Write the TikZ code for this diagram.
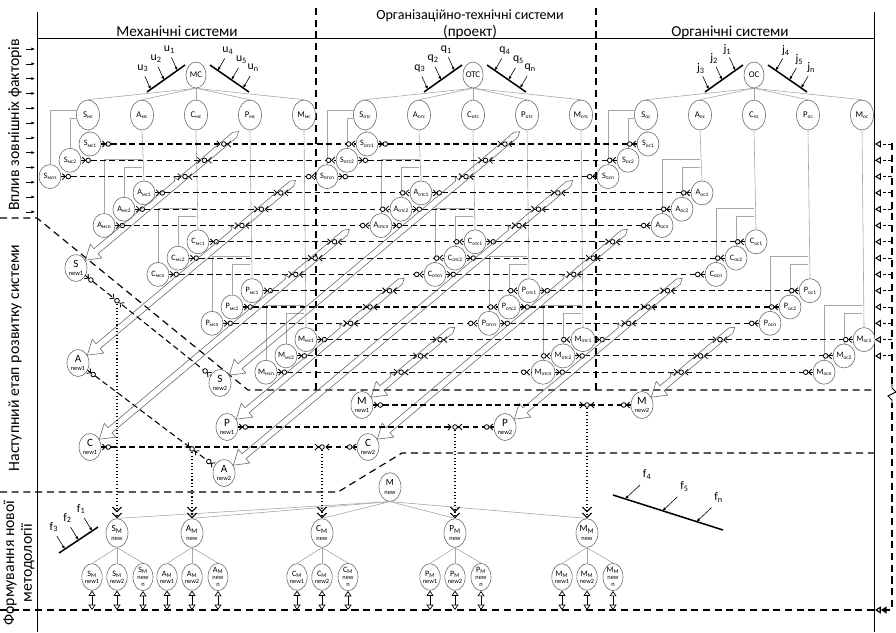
\documentclass[tikz,border=0pt]{standalone}
\usepackage{fontspec}
\setmainfont{Carlito}
\usetikzlibrary{arrows.meta,shapes.geometric,calc}
\definecolor{sysgray}{RGB}{105,105,105}
\definecolor{treegray}{RGB}{165,165,165}
\newcommand{\nwt}[1]{{\fontsize{5.5}{5.5}\selectfont #1}}
\newcommand{\sbx}[1]{\raisebox{-1.2pt}{\fontsize{4.6}{4.6}\selectfont #1}}
\tikzset{
  sysnode/.style={ellipse, draw=sysgray, fill=white, inner sep=0pt, align=center, line width=.5pt},
  topnode/.style={sysnode, minimum width=.6cm, minimum height=.78cm, font=\fontsize{7.5}{8}\selectfont},
  kidnode/.style={sysnode, minimum width=.69cm, minimum height=.9cm, font=\fontsize{7.5}{8}\selectfont},
  subnode/.style={sysnode, minimum width=.66cm, minimum height=.72cm, font=\fontsize{7}{7}\selectfont},
  newnode/.style={sysnode, minimum width=.66cm, minimum height=.81cm, font=\fontsize{9.5}{7}\selectfont},
  mnode/.style={sysnode, minimum width=.66cm, minimum height=.86cm, font=\fontsize{8}{7}\selectfont},
  msub/.style={sysnode, minimum width=.6cm, minimum height=.8cm, font=\fontsize{7}{6}\selectfont},
  tree/.style={draw=treegray, line width=.5pt},
  rowline/.style={draw, line width=.9pt, dash pattern=on 5pt off 3pt},
  sepline/.style={draw, line width=1pt, dash pattern=on 6pt off 4pt},
  frameline/.style={draw, line width=.8pt},
  dotline/.style={draw, line width=.9pt, dotted, -{Straight Barb[length=4pt,width=8pt]Straight Barb[length=4pt,width=8pt]}},
  dblarr/.style={draw, line width=.6pt, {Triangle[open,length=4.5pt,width=6pt]}-{Triangle[open,length=4.5pt,width=6pt]}},
  inarr/.style={draw, line width=.5pt, -{Latex[length=3pt,width=2.5pt]}},
  backarr/.style={draw, line width=.8pt, dash pattern=on 3pt off 2pt, -{Triangle[open,length=5pt,width=6pt]}},
  bar/.style={draw, line width=1.3pt},
  facarr/.style={draw, line width=.5pt, -{Latex[length=3pt,width=2.5pt]}},
  faclab/.style={font=\fontsize{10}{10}\selectfont, inner sep=0pt},
  bandline/.style={draw=sysgray, line width=.5pt},
  pics/band/.style 2 args={code={
    \draw[bandline] (0,0) -- (14,-9) -- (14,-3.2) -- (#2-2,-3.2) -- (#2,-7) -- (#2+1.5,-1.5) -- (#2+3,-3.2)
      -- (#1,-3.2) -- (#1+5,0) -- (#1,3.2) -- (14,3.2) -- (14,9) -- cycle;
  }},
  pics/rmark/.style={code={
    \draw[line width=.7pt] (1,-3) -- (4,0) -- (1,3);
    \draw[line width=.7pt, fill=white] (7,0) circle[radius=2.3];
  }},
  pics/lmark/.style={code={
    \draw[line width=.7pt] (-1,-3) -- (-4,0) -- (-1,3);
    \draw[line width=.7pt, fill=white] (-7,0) circle[radius=2.3];
  }},
  pics/xmark/.style={code={
    \draw[line width=.7pt] (-7,-3) -- (-4,0) -- (-7,3);
    \draw[line width=.7pt] (7,-3) -- (4,0) -- (7,3);
    \draw[line width=.7pt, fill=white] (0,0) circle[radius=2.3];
  }}
}
\begin{document}
\begin{tikzpicture}[x=0.03cm, y=-0.03cm, font=\fontsize{13}{15}\selectfont]
\useasboundingbox (0,0) rectangle (896,632);

% frame and zones
\draw[frameline] (37,12) -- (37,632);
\draw[frameline] (874,12) -- (874,632);
\draw[frameline] (37,38) -- (874,38);
\draw[sepline] (316,8) -- (316,390);
\draw[sepline] (596,8) -- (596,390);
\draw[sepline] (0,218) -- (37,218) -- (248,390) -- (874,390);
\draw[sepline] (0,492) -- (338,492) -- (402,453) -- (874,453);
\draw[sepline] (0,610) -- (874,610);
\draw[sepline, -{Triangle[open,length=5pt,width=6pt]Triangle[open,length=5pt,width=6pt]}] (892,143) -- (892,610) -- (875,610);
\draw[fill=white, draw=white] (889,386) rectangle (895,402);
\draw[line width=.8pt] (892,384) -- (892,388) -- (896,392) -- (888,396) -- (892,400) -- (892,404);
\coordinate (base) at (0,610);

\node[anchor=base] (tmech) at (177,36) {Механічні системи};
\node[anchor=base, font=\fontsize{12}{14}\selectfont] (torg) at (470,19) {Організаційно-технічні системи};
\node[anchor=base] (tproj) at (470,36) {(проект)};
\node[anchor=base] (torgn) at (730,36) {Органічні системи};
\node[rotate=90, font=\fontsize{13.5}{15}\selectfont] (zext) at (15,125) {Вплив зовнішніх факторів};
\node[rotate=90, font=\fontsize{13.5}{15}\selectfont] (znext) at (15,358) {Наступний етап розвитку системи};
\node[rotate=90, font=\fontsize{13.5}{15}\selectfont, align=center] (zform) at (19,563) {Формування нової\\методології};

\foreach \yy in {0,...,11}
  \draw[inarr] (26,49+14.8*\yy) -- (35,49+14.8*\yy);

% three systems
\foreach \g/\X/\nm/\sbs in {mc/196/МС/мс, otc/473/ОТС/отс, oc/754/ОС/ос}{
  \node[topnode] (\g) at (\X,75) {\nm};
  \foreach \lt [count=\j from 0] in {S,A,C,P,M}{
    \pgfmathsetmacro{\xp}{\X-108+54*\j}
    \pgfmathsetmacro{\yo}{144+48.9*\j}
    \pgfmathsetmacro{\bx}{\j==0 ? \xp-11 : \xp}
    \node[kidnode] (\g\lt) at (\xp,115) {\lt\sbx{\sbs}};
    \draw[tree] (\g.south) -- (\g\lt.north);
    \foreach \idx [count=\i from 0] in {1,2,n}{
      \pgfmathtruncatemacro{\kk}{3*\j+\i}
      \node[subnode] (\g\kk) at (\xp+2-20*\i,\yo+16.3*\i) {\lt\sbx{\sbs\idx}};
    }
    \pgfmathtruncatemacro{\ka}{3*\j}
    \pgfmathtruncatemacro{\kb}{3*\j+1}
    \pgfmathtruncatemacro{\kc}{3*\j+2}
    \draw[tree] (\g\lt.south) -- (\g\ka.north);
    \draw[tree] (\bx,\yo-26) -| (\g\kb.north);
    \draw[tree] (\bx,\yo-34) -| (\g\kc.north);
  }
}

\foreach \X/\fl in {196/u, 473/q, 754/j}{
  \draw[bar] (\X-49,92) coordinate (fa) -- (\X-11,65) coordinate (fb);
  \draw[bar] (\X+14,65) coordinate (fc) -- (\X+53,92) coordinate (fd);
  \foreach \fr/\fk in {0.1/3, 0.45/2, 0.8/1}{
    \draw[facarr] ($(fa)!\fr!(fb)+(-6,-13)$) -- ($(fa)!\fr!(fb)$);
    \node[faclab] (lab\fl\fk) at ($(fa)!\fr!(fb)+(-8,-21)$) {\fl\textsubscript{\fk}};
  }
  \foreach \fr/\fk in {0.2/4, 0.55/5, 0.85/n}{
    \draw[facarr] ($(fc)!\fr!(fd)+(7,-12)$) -- ($(fc)!\fr!(fd)$);
    \node[faclab] (lab\fl\fk) at ($(fc)!\fr!(fd)+(10,-20)$) {\fl\textsubscript{\fk}};
  }
}

\foreach \kk in {0,...,14}{
  \draw[rowline] (mc\kk.east) -- (otc\kk.west);
  \draw[rowline] (otc\kk.east) -- (oc\kk.west);
  \pic at (mc\kk.east) {rmark};
  \pic at (otc\kk.west) {lmark};
  \pic at (otc\kk.east) {rmark};
  \pic at (oc\kk.west) {lmark};
}
\foreach \kk in {0,...,13}
  \draw[backarr] (892,144+16.3*\kk) -- (875,144+16.3*\kk);

% next stage
\node[newnode] (snewa) at (76,268) {S\\\nwt{new1}};
\node[newnode] (anewa) at (78,363) {A\\\nwt{new1}};
\node[newnode] (cnewa) at (90,447) {C\\\nwt{new1}};
\node[newnode] (snewb) at (220,383) {S\\\nwt{new2}};
\node[newnode] (pnewa) at (227,427) {P\\\nwt{new1}};
\node[newnode] (anewb) at (224,473) {A\\\nwt{new2}};
\node[newnode] (mnewa) at (362,405) {M\\\nwt{new1}};
\node[newnode] (cnewb) at (368,447) {C\\\nwt{new2}};
\node[newnode] (pnewb) at (505,427) {P\\\nwt{new2}};
\node[newnode] (mnewb) at (642,405) {M\\\nwt{new2}};

\foreach \nd/\nx/\ny/\rw in {snewa/76/268/0, anewa/78/363/3, cnewa/90/447/6, pnewa/227/427/9, mnewa/362/405/12,
                            snewb/220/383/0, anewb/224/473/3, cnewb/368/447/6, pnewb/505/427/9, mnewb/642/405/12}{
  \pgfmathsetmacro{\tx}{\nx+9.1}
  \pgfmathsetmacro{\ty}{\ny-7.6}
  \pgfmathsetmacro{\blen}{(\ty-144-16.3*\rw)/0.6428+14}
  \pgfmathsetmacro{\bump}{(\ty-144-16.3*(\rw+2))/0.6428-9}
  \pic[rotate=40] at (\nd.40) {band={\blen}{\bump}};
  \foreach \i in {0,1,2}{
    \pgfmathsetmacro{\yr}{144+16.3*(\rw+\i)}
    \pgfmathsetmacro{\xr}{\tx+(\ty-\yr)*1.1918}
    \pic at (\xr,\yr) {xmark};
  }
}

% new methodology
\node[mnode] (mnew) at (390,487) {M\\\nwt{new}};
\foreach \lt/\x in {S/117, A/192, C/322, P/455, M/587}{
  \node[mnode] (\lt m) at (\x,533) {\lt\textsubscript{M}\\\nwt{new}};
  \node[msub] (\lt m1) at (\x-25,577) {\lt\textsubscript{M}\\\nwt{new1}};
  \node[msub] (\lt m2) at (\x,577) {\lt\textsubscript{M}\\\nwt{new2}};
  \node[msub] (\lt m3) at (\x+26,577) {\lt\textsubscript{M}\\\nwt{new}\\\nwt{n}};
  \draw[tree] (mnew.south) -- (\lt m.north);
  \foreach \s in {1,2,3}{
    \draw[tree] (\lt m.south) -- (\lt m\s.north);
    \draw[dblarr] (\lt m\s.south) -- (\lt m\s.south |- base);
  }
}

\draw[rowline] (snewa) -- (snewb);
\pic[rotate=-38.6] at (snewa.321.4) {rmark};
\pic[rotate=-38.6] at (snewb.141.4) {lmark};
\draw[rowline] (anewa) -- (anewb);
\pic[rotate=-37] at (anewa.323) {rmark};
\pic[rotate=-37] at (anewb.143) {lmark};
\foreach \a/\b in {cnewa/cnewb, pnewa/pnewb, mnewa/mnewb}{
  \draw[rowline] (\a) -- (\b);
  \pic at (\a.east) {rmark};
  \pic at (\b.west) {lmark};
}
\foreach \lt/\cx/\cy/\ang in {S/117/300.7/-38.6, A/192/448.9/-37, C/322/447/0, P/455/427/0, M/587/405/0}{
  \coordinate (x\lt) at (\cx,\cy);
  \draw[dotline] (x\lt) -- (\lt m.north);
  \pic[rotate=\ang] at (x\lt) {xmark};
}

\draw[bar] (59,553) coordinate (fa) -- (98,527) coordinate (fb);
\foreach \fr/\fk in {0.15/3, 0.5/2, 0.85/1}{
  \draw[facarr] ($(fa)!\fr!(fb)+(-8,-13)$) -- ($(fa)!\fr!(fb)$);
  \node[faclab] (labf\fk) at ($(fa)!\fr!(fb)+(-11,-22)$) {f\textsubscript{\fk}};
}
\draw[bar] (613,495) coordinate (fc) -- (723,530) coordinate (fd);
\foreach \fr/\fk in {0.11/4, 0.45/5, 0.76/n}{
  \draw[facarr] ($(fc)!\fr!(fd)+(15,-14)$) -- ($(fc)!\fr!(fd)$);
  \node[faclab] (labf\fk) at ($(fc)!\fr!(fd)+(22,-24)$) {f\textsubscript{\fk}};
}
\end{tikzpicture}
\end{document}
